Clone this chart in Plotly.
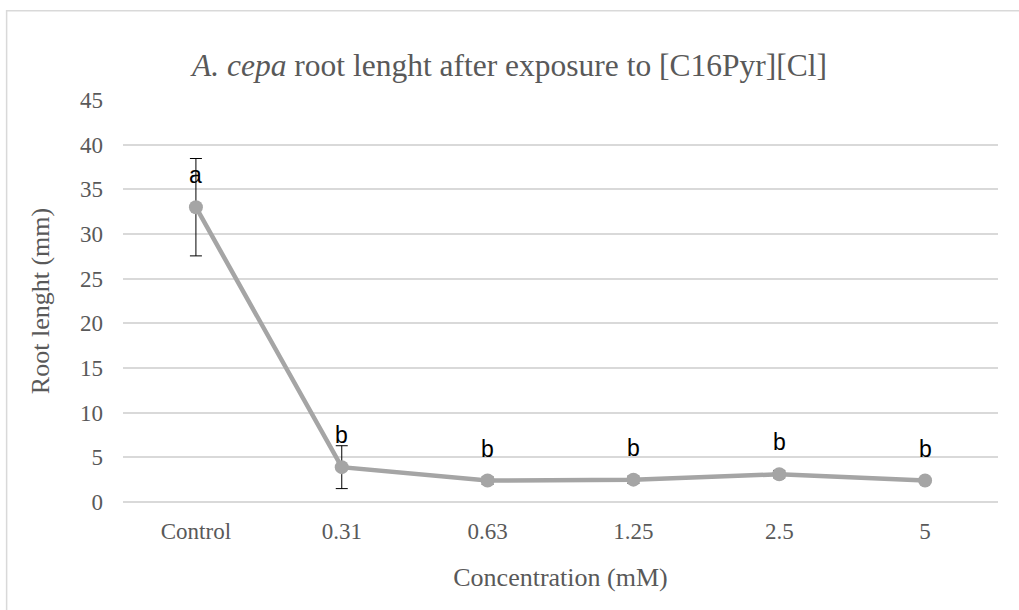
import plotly.graph_objects as go

concentrations = ['Control', '0.31', '0.63', '1.25', '2.5', '5']
root_length = [33.0, 3.9, 2.4, 2.5, 3.1, 2.4]
error = [5.45, 2.4, 0.4, 0.4, 0.4, 0.2]
letters = ['a', 'b', 'b', 'b', 'b', 'b']

serif = 'Liberation Serif, Times New Roman, serif'
grey_text = '#595959'

fig = go.Figure()
fig.add_trace(go.Scatter(
    x=concentrations, y=root_length, mode='lines+markers',
    line=dict(color='#A5A5A5', width=4.5),
    marker=dict(color='#A5A5A5', size=14),
    error_y=dict(type='data', array=error, color='black', thickness=1, width=6),
    showlegend=False, cliponaxis=False))

# significance letters above each point (category index on x)
for i, (v, l) in enumerate(zip(root_length, letters)):
    fig.add_annotation(x=i, y=v, text=l, showarrow=False, yshift=32,
                       font=dict(family='Liberation Sans, Arial, sans-serif', size=23, color='black'))

# chart frame
fig.add_shape(type='rect', xref='paper', yref='paper',
              x0=-0.133, x1=1.05, y0=-0.3, y1=1.222,
              line=dict(color='#D9D9D9', width=1.5), layer='below')

fig.update_layout(
    width=1019, height=610,
    margin=dict(l=123, r=21, t=100, b=108),
    paper_bgcolor='white', plot_bgcolor='white',
    title=dict(text='<i>A. cepa</i> root lenght after exposure to [C16Pyr][Cl]',
               x=0.5, xanchor='center', y=0.893, yanchor='middle',
               font=dict(family=serif, size=31.5, color=grey_text)),
    xaxis=dict(type='category', range=[-0.5, 5.5], showgrid=False, showline=False,
               ticks='', zeroline=False, ticklabelstandoff=13,
               tickfont=dict(family=serif, size=23, color=grey_text),
               title=dict(text='Concentration (mM)', standoff=24,
                          font=dict(family=serif, size=26, color=grey_text))),
    yaxis=dict(range=[0, 45], dtick=5, showgrid=True, gridcolor='#D9D9D9', gridwidth=1.5,
               zeroline=True, zerolinecolor='#D9D9D9', zerolinewidth=1.5,
               showline=False, ticks='', ticklabelstandoff=19,
               tickfont=dict(family=serif, size=23, color=grey_text),
               title=dict(text='Root lenght (mm)', standoff=22,
                          font=dict(family=serif, size=26, color=grey_text))),
)

fig.write_html('out.html', config={'displayModeBar': False},
               post_script="document.body.style.margin='0px';")
